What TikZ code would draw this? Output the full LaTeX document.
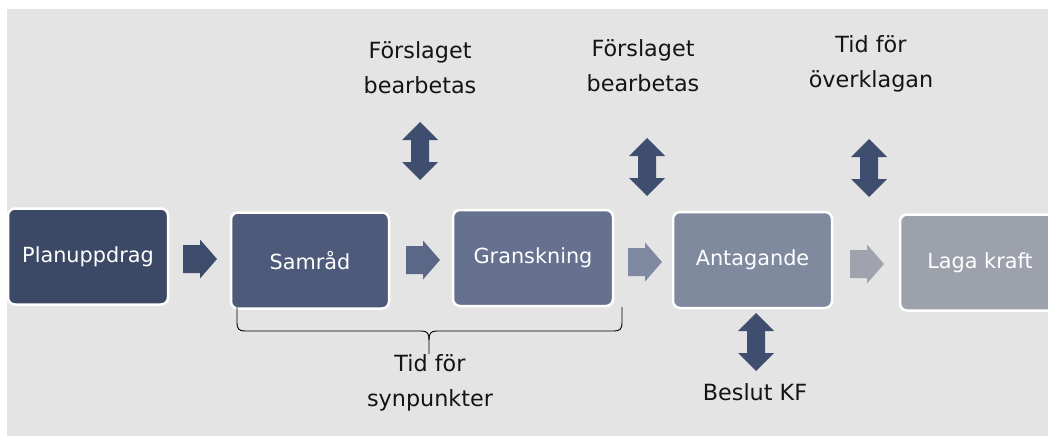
\documentclass[tikz,border=0pt]{standalone}
\usepackage{fontspec}
\setmainfont{DejaVu Sans}
\begin{document}
\begin{tikzpicture}[x=1pt,y=-1pt,
  box/.style={draw=white,line width=2.5pt,rounded corners=7pt,text=white,
    minimum width=#1,minimum height=96pt,inner sep=0pt,font=\fontsize{20.8}{24}\selectfont},
  lbl/.style={align=center,text=black!92,font=\fontsize{22.3}{35}\selectfont,inner sep=0pt},
  rarrow/.pic={\fill[pic actions] (0,-14) -- (17,-14) -- (17,-19.5) -- (34,0) -- (17,19.5) -- (17,14) -- (0,14) -- cycle;},
  vdarrow/.pic={\fill[pic actions] (0,-29) -- (18,-11) -- (9,-11) -- (9,11) -- (18,11) -- (0,29) -- (-18,11) -- (-9,11) -- (-9,-11) -- (-18,-11) -- cycle;},
  brace/.style={draw=black,line width=0.9pt}
]
\definecolor{bg}{HTML}{E4E4E4}
\definecolor{cA}{HTML}{3B4866}
\definecolor{cB}{HTML}{4D5A7A}
\definecolor{cC}{HTML}{65718F}
\definecolor{cD}{HTML}{808A9F}
\definecolor{cE}{HTML}{9DA1AC}
\definecolor{aA}{HTML}{3E4C6C}
\definecolor{aB}{HTML}{5A6787}
\definecolor{aC}{HTML}{7F89A2}
\definecolor{aD}{HTML}{A0A3AD}
\definecolor{dv}{HTML}{3F4D6E}
\useasboundingbox (0,0) rectangle (1048,436);
\clip (0,0) rectangle (1048,436);
\fill[bg] (7,9) rectangle (1048,436);

\node[box=160pt,fill=cA] (plan) at (88,256.5) {Planuppdrag};
\node[box=158pt,fill=cB] (samrad) at (310,260.5) {Samråd};
\node[box=160pt,fill=cC] (gransk) at (533,258) {Granskning};
\node[box=159pt,fill=cD] (antag) at (752.5,260) {Antagande};
\node[box=160pt,fill=cE] (laga) at (980,262.5) {Laga kraft};

\pic[fill=aA] at (183,259) {rarrow};
\pic[fill=aB] at (406,260) {rarrow};
\pic[fill=aC] at (628,262) {rarrow};
\pic[fill=aD] at (850,264) {rarrow};

\pic[fill=dv] at (420,151) {vdarrow};
\pic[fill=dv] at (647,167) {vdarrow};
\pic[fill=dv] at (869,168) {vdarrow};
\pic[fill=dv] at (756,342) {vdarrow};

\node[lbl] (l1) at (420,68) {Förslaget\\bearbetas};
\node[lbl] (l2) at (643,66) {Förslaget\\bearbetas};
\node[lbl] (l3) at (871,64) {Tid för\\överklagan};
\node[lbl] (l4) at (755,392) {Beslut KF};
\node[lbl] (l5) at (430,383) {Tid för\\synpunkter};

\draw[brace] (237,307) -- (237,322) .. controls (237,329) and (239,331) .. (245,331) -- (421,331)
  .. controls (427,331) and (429,333) .. (429,340) -- (429,354);
\draw[brace] (622,307) -- (622,322) .. controls (622,329) and (620,331) .. (614,331) -- (437,331)
  .. controls (431,331) and (429,333) .. (429,340);
\end{tikzpicture}
\end{document}
